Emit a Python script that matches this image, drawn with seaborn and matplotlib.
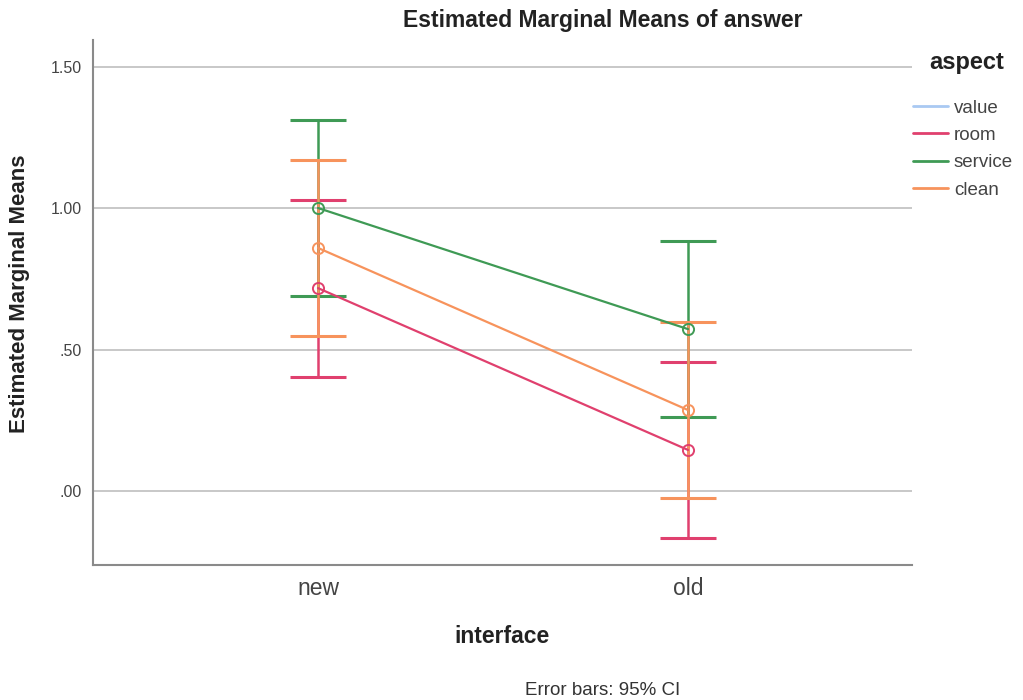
import matplotlib
matplotlib.use("Agg")
import matplotlib.pyplot as plt
from matplotlib.lines import Line2D
from matplotlib.ticker import FuncFormatter
import seaborn as sns
import pandas as pd

# Estimated marginal means with 95% confidence limits
interface = ["new", "old"]
aspects = ["value", "room", "service", "clean"]
room_mean = [0.717, 0.145]
room_low = [0.403, -0.166]
room_high = [1.028, 0.456]
service_mean = [1.000, 0.572]
service_low = [0.689, 0.261]
service_high = [1.311, 0.883]
clean_mean = [0.859, 0.286]
clean_low = [0.548, -0.025]
clean_high = [1.170, 0.597]
yticks = [0.0, 0.5, 1.0, 1.5]

colors = {"value": "#a9c9f2", "room": "#e0406e", "service": "#3f9a55", "clean": "#f7935c"}

series = {
    "room": (room_mean, room_low, room_high),
    "service": (service_mean, service_low, service_high),
    "clean": (clean_mean, clean_low, clean_high),
}

rows = []
for name, (m, lo, hi) in series.items():
    for i, lvl in enumerate(interface):
        rows.append({"interface": lvl, "aspect": name, "answer": m[i],
                     "low": lo[i], "high": hi[i], "pos": i})
df = pd.DataFrame(rows)

sns.set_theme(style="white")
plt.rcParams["font.family"] = ["Liberation Sans", "DejaVu Sans"]

fig = plt.figure(figsize=(10.23, 7.0), dpi=100)
ax = fig.add_axes([0.0909, 0.193, 0.8006, 0.750])

# confidence interval bars with caps
for name in ["room", "service", "clean"]:
    sub = df[df["aspect"] == name]
    cont = ax.errorbar(sub["pos"], sub["answer"],
                       yerr=[sub["answer"] - sub["low"], sub["high"] - sub["answer"]],
                       fmt="none", ecolor=colors[name], elinewidth=1.8,
                       capsize=20, capthick=2.2, zorder=3)
    for cap in cont[1]:
        cap.set_color(colors[name])
        cap.set_markeredgecolor(colors[name])

sns.lineplot(data=df, x="pos", y="answer", hue="aspect",
             hue_order=["room", "service", "clean"],
             palette=colors, marker="o", markersize=8,
             markerfacecolor="none", markeredgewidth=1.4,
             linewidth=1.6, legend=False, ax=ax, zorder=4)
for line in ax.lines:
    if line.get_marker() == "o":
        line.set_markerfacecolor("none")
        line.set_markeredgecolor(line.get_color())

ax.set_xlim(-0.608, 1.605)
ax.set_ylim(-0.261, 1.594)
ax.set_xticks([0, 1])
ax.set_xticklabels(interface, fontsize=16.5, color="#444444")
ax.set_yticks(yticks)
ax.yaxis.set_major_formatter(FuncFormatter(lambda v, p: f"{v:.2f}".lstrip("0") if v < 1 else f"{v:.2f}"))
ax.tick_params(axis="y", labelsize=11.5, labelcolor="#444444", length=0, pad=8)
ax.tick_params(axis="x", length=0, pad=9)
ax.yaxis.grid(True, color="#c4c4c4", linewidth=1.3)
ax.set_axisbelow(True)
for s in ["top", "right"]:
    ax.spines[s].set_visible(False)
for s in ["left", "bottom"]:
    ax.spines[s].set_color("#8a8a8a")
    ax.spines[s].set_linewidth(1.5)

ax.set_xlabel("")
ax.set_ylabel("")
fig.text(0.589, 0.971, "Estimated Marginal Means of answer", ha="center", va="center",
         fontsize=16.5, fontweight="bold", color="#222222")
fig.text(0.019, 0.581, "Estimated Marginal Means", ha="center", va="center", rotation=90,
         fontsize=16, fontweight="bold", color="#222222")
fig.text(0.491, 0.091, "interface", ha="center", va="center",
         fontsize=16.5, fontweight="bold", color="#222222")
fig.text(0.589, 0.014, "Error bars: 95% CI", ha="center", va="center",
         fontsize=13.5, color="#333333")

# legend: title placed separately so the gap above the entries can be set freely
fig.text(0.945, 0.91, "aspect", ha="center", va="center",
         fontsize=17, fontweight="bold", color="#222222")
handles = [Line2D([0], [0], color=colors[a], linewidth=2) for a in aspects]
leg = fig.legend(handles, aspects, loc="upper left",
                 bbox_to_anchor=(0.892, 0.858), frameon=False,
                 borderpad=0, borderaxespad=0,
                 fontsize=13.5, handlelength=1.9, handletextpad=0.3,
                 labelspacing=0.55, labelcolor="#444444")

fig.savefig("out.png", dpi=100)
